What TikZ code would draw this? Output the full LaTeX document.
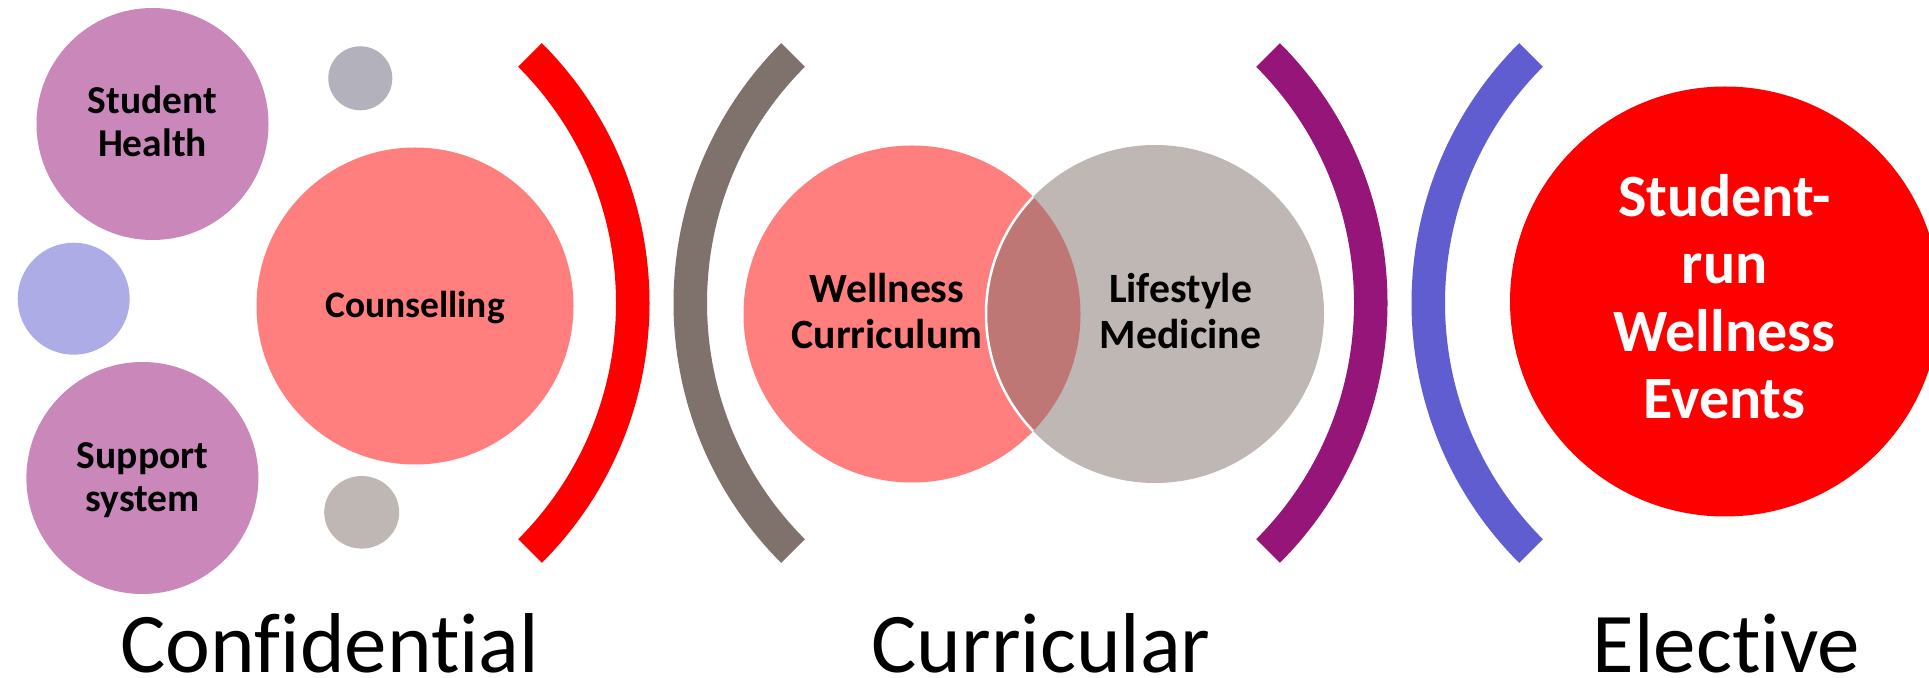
\documentclass[tikz,border=0pt]{standalone}
\usepackage{fontspec}
\setmainfont{Carlito}[Ligatures=NoCommon]
\usetikzlibrary{calc,shapes.geometric}
\definecolor{plum}{HTML}{C987BA}
\definecolor{lgray}{HTML}{B3B2BC}
\definecolor{lblue}{HTML}{AEACE7}
\definecolor{salmon}{HTML}{FF7F7F}
\definecolor{taupe}{HTML}{BFB7B3}
\definecolor{brownarc}{HTML}{7F716B}
\definecolor{purplearc}{HTML}{951578}
\definecolor{bluearc}{HTML}{605DD1}
\definecolor{overlapc}{HTML}{BF7775}
\begin{document}
\begin{tikzpicture}[x=1pt,y=1pt,
  blob/.style={circle,inner sep=0pt,minimum size=#1},
  lbl/.style={inner sep=0pt,align=center,anchor=base,font=\bfseries\fontsize{39.5}{43.5}\selectfont},
  vlbl/.style={inner sep=0pt,align=center,anchor=base,font=\bfseries\fontsize{41.7}{45.5}\selectfont},
  biglbl/.style={inner sep=0pt,align=center,anchor=base,text=white,font=\bfseries\fontsize{60}{67.5}\selectfont},
  cat/.style={inner sep=0pt,anchor=base,font=\fontsize{85}{90}\selectfont}]
\clip (0,0) rectangle (1929,677);
\fill[white] (0,0) rectangle (1929,677);

% left group
\node[blob=232pt,fill=plum] (sh) at (152.5,553) {};
\node[blob=64pt,fill=lgray] (g1) at (360.3,598.7) {};
\node[blob=112pt,fill=lblue] (bl) at (73.7,378.3) {};
\node[blob=317pt,fill=salmon] (co) at (415,371) {};
\node[blob=232pt,fill=plum] (ss) at (142.4,199) {};
\node[ellipse,inner sep=0pt,minimum width=75pt,minimum height=72.6pt,fill=taupe] (g2) at (361.7,164.7) {};

\node[lbl] (sht) at (152.5,520.3) {Student\\Health};
\node[lbl,font=\bfseries\fontsize{37.5}{41}\selectfont] (cot) at (415,359) {Counselling};
\node[lbl] (sst) at (142.6,165) {Support\\system};

% block arcs
\coordinate (c1) at (282,374);
\coordinate (c2) at (1041,374);
\coordinate (c3) at (1020,374);
\coordinate (c4) at (1779,374);
\fill[red] ($(c1)+(-45:367.5)$) arc[start angle=-45,end angle=45,radius=367.5] -- ++(225:33.5) arc[start angle=45,end angle=-45,radius=334] -- cycle;
\fill[brownarc] ($(c2)+(135:367.5)$) arc[start angle=135,end angle=225,radius=367.5] -- ++(45:33.5) arc[start angle=225,end angle=135,radius=334] -- cycle;
\fill[purplearc] ($(c3)+(-45:367.5)$) arc[start angle=-45,end angle=45,radius=367.5] -- ++(225:33.5) arc[start angle=45,end angle=-45,radius=334] -- cycle;
\fill[bluearc] ($(c4)+(135:367.5)$) arc[start angle=135,end angle=225,radius=367.5] -- ++(45:33.5) arc[start angle=225,end angle=135,radius=334] -- cycle;

% Venn
\node[blob=337pt,fill=salmon] (wc) at (912,363) {};
\node[blob=338pt,fill=taupe] (lm) at (1155,363) {};
\begin{scope}
  \clip (912,363) circle[radius=168.5];
  \fill[overlapc] (1155,363) circle[radius=169];
  \draw[white,line width=2.5pt] (1155,363) circle[radius=169];
\end{scope}
\node[vlbl] (wct) at (887,328.5) {Wellness\\Curriculum};
\node[vlbl] (lmt) at (1180.5,328.5) {Lifestyle\\Medicine};

% elective
\node[blob=430pt,fill=red] (ev) at (1725,375.5) {};
\node[biglbl] (evt) at (1724.6,258) {Student-\\run\\Wellness\\Events};

% categories
\node[cat] (k1) at (330,5) {Confidential};
\node[cat] (k2) at (1041,5) {Curricular};
\node[cat] (k3) at (1726.5,5) {Elective};
\end{tikzpicture}
\end{document}
